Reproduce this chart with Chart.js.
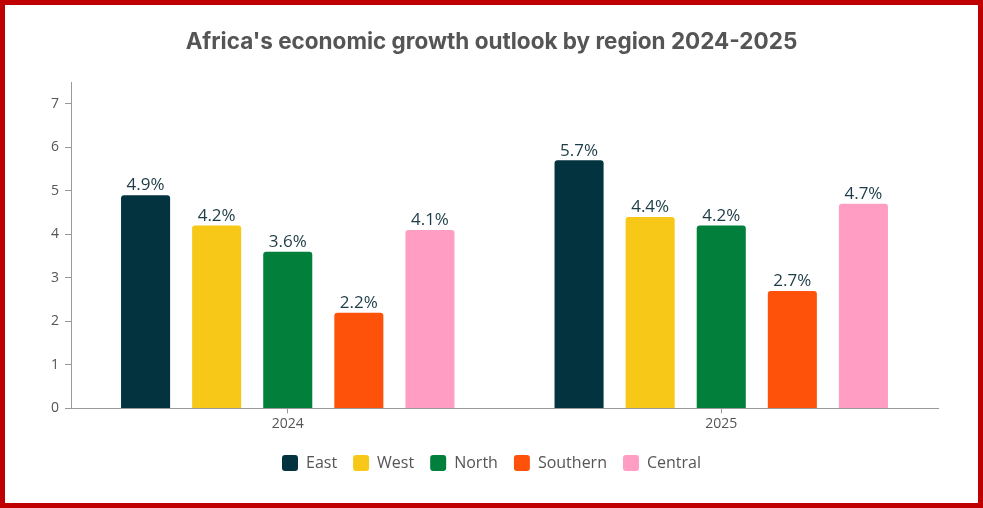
<!DOCTYPE html>
<html>
<head>
<meta charset="utf-8">
<script src="https://cdn.jsdelivr.net/npm/chart.js@4.4.0/dist/chart.umd.min.js"></script>
<style>
  html, body { margin: 0; padding: 0; background: #fff; }
  #frame { width: 983px; height: 508px; box-sizing: border-box; border: 5px solid #c00000; position: relative; }
  #wrap { width: 973px; height: 498px; }
</style>
</head>
<body>
<div id="frame"><div id="wrap"><canvas id="growthChart"></canvas></div></div>
<script>
// Data
const years = ["2024", "2025"];
const regions = ["East", "West", "North", "Southern", "Central"];
const east = [4.9, 5.7];
const west = [4.2, 4.4];
const north = [3.6, 4.2];
const southern = [2.2, 2.7];
const central = [4.1, 4.7];
const yTicks = [0, 1, 2, 3, 4, 5, 6, 7];

const colors = ["#02333f", "#f7c817", "#017f3b", "#fe520a", "#ff9dc2"];
const seriesValues = [east, west, north, southern, central];

// value labels above bars
const valueLabels = {
  id: "valueLabels",
  afterDatasetsDraw(chart) {
    let ctx = chart.ctx;
    ctx.save();
    ctx.font = "17px 'Open Sans'";
    ctx.fillStyle = "#1d3c47";
    ctx.textAlign = "center";
    ctx.textBaseline = "bottom";
    chart.data.datasets.forEach((ds, i) => {
      chart.getDatasetMeta(i).data.forEach((bar, j) => {
        ctx.fillText(ds.data[j].toFixed(1) + "%", bar.x, bar.y - 1);
      });
    });
    ctx.restore();
  }
};

let ctx = document.getElementById("growthChart").getContext("2d");
let growthChart = new Chart(ctx, {
  type: "bar",
  data: {
    labels: years,
    datasets: regions.map((r, i) => ({
      label: r,
      data: seriesValues[i],
      backgroundColor: colors[i],
      borderRadius: 3,
      borderSkipped: "bottom",
      categoryPercentage: 0.82,
      barPercentage: 0.69
    }))
  },
  options: {
    responsive: true,
    maintainAspectRatio: false,
    animation: false,
    layout: { padding: { left: 40, right: 40, top: 10, bottom: 22 } },
    plugins: {
      title: {
        display: true,
        text: "Africa's economic growth outlook by region 2024-2025",
        color: "#555555",
        font: { family: "Inter", size: 22.5, weight: "bold" },
        padding: { top: 14, bottom: 26 }
      },
      legend: {
        position: "bottom",
        title: { display: true, text: " ", font: { size: 4 }, padding: 0 },
        labels: {
          boxWidth: 16, boxHeight: 16, useBorderRadius: true, borderRadius: 3,
          color: "#555555", padding: 16,
          font: { family: "'Open Sans'", size: 16 }
        }
      },
      tooltip: { enabled: false }
    },
    scales: {
      x: {
        grid: { display: true, drawOnChartArea: false, offset: false, tickLength: 5, color: "#999" },
        border: { color: "#999" },
        ticks: { color: "#555", font: { family: "'Open Sans'", size: 14 }, padding: 2 }
      },
      y: {
        min: 0, max: 7.5,
        afterBuildTicks: axis => { axis.ticks = yTicks.map(v => ({ value: v })); },
        grid: { display: true, drawOnChartArea: false, tickLength: 6, color: "#999" },
        border: { color: "#999" },
        ticks: { color: "#555", font: { family: "'Open Sans'", size: 14 }, padding: 6 }
      }
    }
  },
  plugins: [valueLabels]
});
</script>
</body>
</html>
